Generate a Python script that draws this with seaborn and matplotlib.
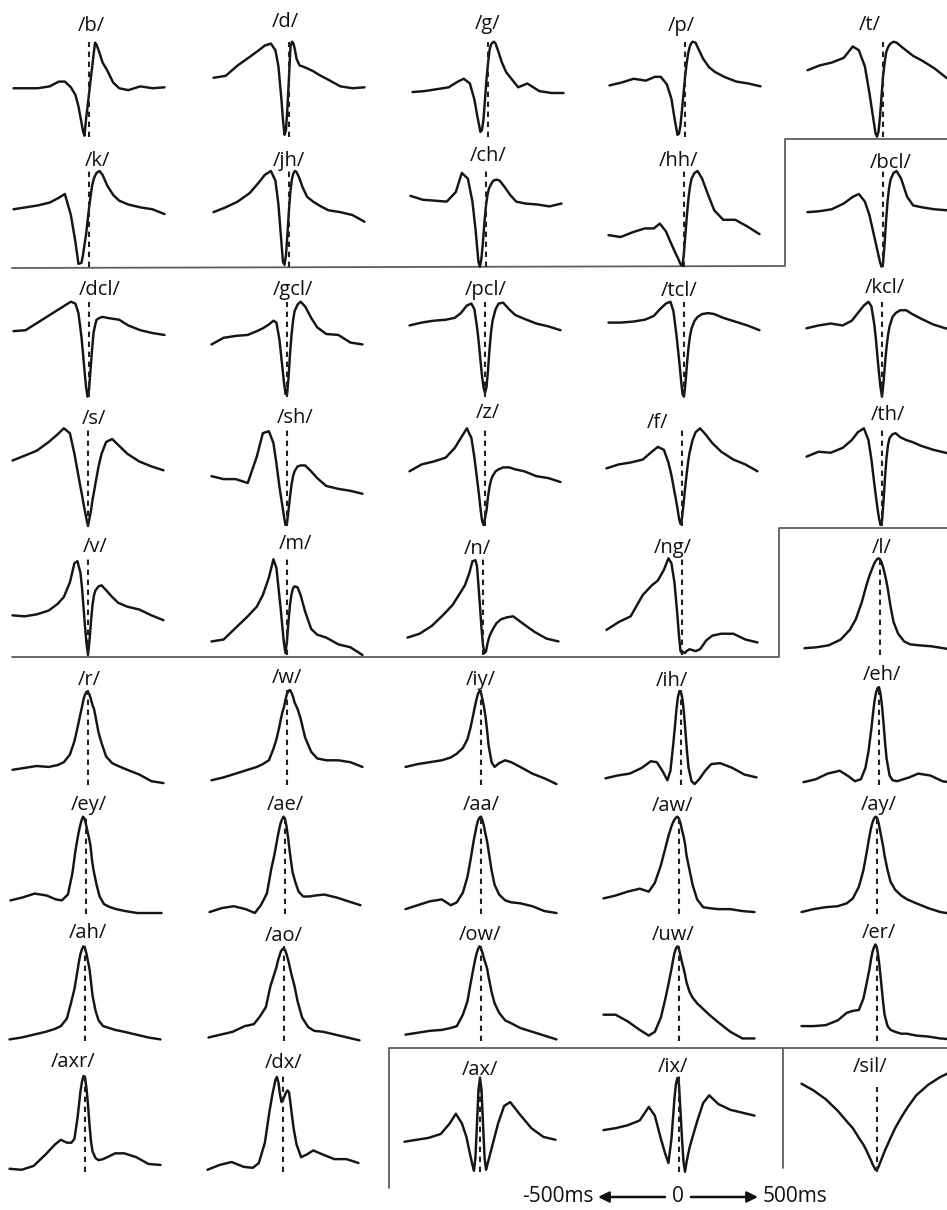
import matplotlib
matplotlib.use("Agg")
import matplotlib.pyplot as plt
import seaborn as sns

# ---------------- data ----------------
# lag axis (ms) shared by every averaged trajectory
lag_ms = [-500, -420, -340, -260, -200, -160, -120, -90, -70, -50, -40, -30, -20, -10, 0,
          10, 20, 30, 40, 50, 70, 90, 120, 160, 200, 260, 340, 420, 500]

amp_b = [51, 51, 51, 53, 58, 58, 52, 44, 32, 15, 6, 1, 18, 31, 45, 59, 72, 86, 99, 97, 88, 78, 70, 57, 51, 49, 53, 51, 52]
amp_d = [62, 64, 75, 84, 91, 96, 98, 91, 74, 39, 18, 2, 7, 32, 63, 95, 100, 98, 91, 82, 75, 74, 72, 69, 65, 60, 53, 51, 52]
amp_g = [47, 48, 50, 52, 58, 61, 56, 39, 21, 5, 7, 18, 39, 60, 77, 91, 97, 99, 100, 98, 89, 79, 68, 60, 52, 56, 48, 46, 46]
amp_p = [54, 57, 61, 59, 63, 63, 55, 40, 20, 2, 3, 12, 28, 45, 62, 76, 87, 94, 98, 100, 99, 92, 82, 73, 68, 63, 58, 56, 53]
amp_t = [70, 75, 78, 83, 95, 91, 74, 46, 25, 4, 0, 5, 21, 42, 63, 77, 88, 93, 96, 98, 100, 99, 95, 90, 85, 80, 72, 62, 55]

amp_k = [60, 62, 64, 67, 72, 76, 54, 26, 3, 4, 12, 23, 33, 47, 61, 73, 84, 91, 95, 98, 100, 96, 85, 75, 69, 65, 62, 60, 55]
amp_jh = [57, 62, 68, 77, 88, 96, 100, 90, 65, 25, 5, 2, 12, 35, 60, 80, 92, 98, 100, 99, 92, 83, 73, 68, 64, 59, 57, 54, 47]
amp_ch = [74, 70, 69, 68, 78, 98, 92, 68, 40, 5, 0, 9, 26, 47, 64, 75, 82, 85, 88, 90, 91, 90, 84, 75, 68, 66, 65, 63, 66]
amp_hh = [33, 31, 36, 40, 40, 45, 37, 26, 19, 12, 9, 5, 2, 1, 15, 35, 55, 72, 84, 92, 98, 100, 92, 75, 59, 49, 49, 42, 34]
amp_bcl = [57, 58, 60, 66, 73, 76, 68, 54, 40, 26, 19, 12, 5, 0, 3, 23, 47, 68, 82, 91, 98, 100, 92, 73, 64, 62, 60, 59, 58]

amp_dcl = [69, 70, 78, 86, 92, 96, 100, 98, 88, 63, 46, 28, 11, 0, 7, 28, 49, 67, 75, 81, 83, 84, 83, 82, 81, 75, 70, 67, 65]
amp_gcl = [55, 62, 64, 65, 69, 72, 76, 80, 78, 60, 45, 30, 15, 3, 2, 20, 45, 65, 80, 90, 97, 100, 95, 83, 73, 66, 65, 57, 55]
amp_pcl = [75, 78, 80, 81, 83, 88, 96, 98, 92, 70, 55, 38, 22, 10, 4, 10, 28, 50, 68, 80, 92, 98, 99, 92, 86, 82, 77, 74, 70]
amp_tcl = [78, 78, 79, 81, 85, 92, 98, 100, 90, 65, 50, 35, 18, 3, 0, 15, 35, 52, 64, 72, 80, 84, 87, 88, 87, 83, 79, 75, 70]
amp_kcl = [72, 75, 77, 75, 80, 88, 96, 100, 95, 75, 60, 42, 25, 10, 0, 15, 35, 52, 65, 74, 84, 88, 91, 91, 87, 82, 76, 72, 70]

amp_s = [67, 72, 77, 86, 94, 100, 95, 74, 57, 40, 32, 23, 15, 7, 0, 8, 16, 27, 35, 44, 61, 74, 86, 89, 83, 74, 66, 61, 57]
amp_sh = [51, 48, 48, 44, 71, 95, 97, 85, 64, 40, 30, 20, 10, 1, 3, 16, 30, 42, 51, 56, 61, 62, 62, 56, 49, 41, 38, 36, 33]
amp_z = [56, 63, 66, 70, 80, 90, 100, 90, 70, 45, 32, 18, 6, 1, 8, 16, 30, 40, 47, 51, 56, 58, 60, 60, 58, 56, 51, 49, 45]
amp_f = [59, 63, 65, 68, 76, 81, 78, 65, 52, 35, 27, 18, 8, 2, 8, 22, 38, 52, 65, 75, 88, 96, 100, 93, 85, 76, 68, 63, 56]
amp_th = [71, 76, 75, 80, 88, 96, 100, 88, 68, 42, 30, 18, 8, 1, 5, 25, 50, 70, 83, 90, 94, 95, 91, 88, 86, 82, 78, 75, 72]

amp_v = [41, 40, 42, 46, 53, 60, 75, 95, 97, 85, 70, 50, 30, 12, 0, 15, 35, 52, 62, 67, 71, 72, 67, 60, 54, 50, 47, 41, 36]
amp_m = [14, 16, 28, 40, 50, 62, 80, 99, 90, 60, 45, 28, 12, 2, 15, 35, 52, 63, 69, 71, 70, 62, 45, 27, 21, 18, 11, 8, 0]
amp_n = [18, 22, 30, 42, 52, 62, 72, 85, 97, 98, 92, 72, 50, 28, 10, 2, 4, 12, 18, 22, 28, 33, 37, 39, 40, 33, 24, 17, 14]
amp_ng = [26, 34, 40, 62, 72, 77, 88, 100, 95, 75, 58, 40, 20, 4, 2, 3, 2, 4, 5, 6, 5, 4, 6, 15, 20, 22, 22, 16, 13]
amp_l = [7, 8, 10, 16, 26, 37, 55, 72, 82, 90, 94, 97, 99, 100, 99, 96, 91, 85, 78, 70, 50, 34, 22, 14, 11, 10, 9, 7, 5]

amp_r = [16, 18, 20, 19, 21, 24, 32, 46, 60, 75, 82, 90, 95, 98, 98, 95, 90, 84, 80, 72, 55, 44, 30, 23, 20, 16, 11, 4, 2]
amp_w = [5, 8, 12, 16, 19, 22, 26, 38, 48, 62, 70, 77, 82, 90, 96, 99, 100, 97, 93, 87, 80, 70, 50, 35, 28, 26, 26, 24, 19]
amp_iy = [19, 22, 24, 26, 29, 33, 39, 48, 60, 75, 83, 90, 96, 99, 97, 90, 82, 72, 58, 42, 24, 19, 23, 26, 24, 19, 12, 7, 1]
amp_ih = [7, 10, 12, 18, 25, 24, 14, 5, 15, 45, 62, 80, 93, 99, 98, 90, 75, 55, 35, 18, 4, 1, 6, 15, 22, 23, 18, 11, 8]
amp_eh = [3, 6, 12, 15, 9, 4, 6, 18, 35, 60, 75, 88, 97, 102, 103, 96, 83, 65, 45, 28, 10, 5, 4, 6, 8, 12, 10, 4, 2]

amp_ey = [14, 17, 21, 19, 15, 14, 20, 42, 65, 83, 90, 96, 100, 98, 92, 85, 78, 70, 55, 45, 30, 18, 10, 7, 5, 3, 1, 1, 1]
amp_ae = [2, 6, 8, 5, 1, 9, 21, 47, 61, 78, 86, 93, 97, 100, 98, 90, 79, 66, 54, 43, 32, 23, 18, 18, 19, 20, 17, 13, 9]
amp_aa = [5, 9, 13, 15, 9, 12, 22, 38, 55, 74, 82, 90, 96, 99, 100, 96, 90, 82, 75, 65, 45, 30, 20, 14, 12, 11, 8, 3, 1]
amp_aw = [16, 19, 23, 26, 23, 32, 50, 68, 80, 90, 94, 97, 99, 100, 98, 93, 86, 80, 72, 60, 45, 30, 15, 7, 6, 5, 5, 3, 2]
amp_ay = [2, 5, 7, 8, 11, 16, 28, 45, 62, 80, 88, 94, 98, 100, 99, 94, 86, 78, 70, 60, 45, 33, 25, 19, 15, 11, 6, 2, 0]

amp_ah = [2, 4, 7, 10, 13, 16, 24, 42, 55, 74, 84, 92, 97, 100, 98, 92, 84, 76, 62, 48, 32, 22, 16, 14, 12, 10, 7, 4, 2]
amp_ao = [4, 7, 10, 16, 18, 26, 36, 58, 68, 78, 85, 90, 95, 97, 98, 95, 90, 84, 77, 70, 58, 42, 25, 15, 11, 10, 7, 4, 1]
amp_ow = [7, 9, 11, 12, 14, 16, 28, 42, 60, 77, 85, 92, 97, 100, 98, 93, 87, 82, 77, 68, 52, 40, 30, 22, 19, 14, 10, 6, 2]
amp_uw = [28, 28, 21, 12, 6, 10, 25, 45, 60, 76, 85, 93, 98, 100, 97, 90, 83, 77, 70, 62, 52, 46, 40, 34, 28, 20, 10, 3, 3]
amp_er = [16, 16, 17, 22, 30, 32, 33, 45, 60, 76, 86, 94, 99, 102, 98, 88, 74, 58, 42, 28, 16, 12, 10, 8, 8, 6, 5, 3, 2]

amp_axr = [3, 2, 6, 18, 28, 33, 30, 30, 34, 55, 69, 83, 93, 99, 98, 86, 69, 48, 31, 21, 14, 12, 13, 16, 19, 19, 15, 8, 7]
amp_dx = [2, 7, 10, 5, 4, 9, 30, 62, 80, 95, 98, 92, 80, 72, 74, 78, 82, 84, 82, 70, 45, 28, 15, 18, 22, 18, 13, 13, 9]
amp_ax = [31, 33, 35, 39, 50, 60, 50, 36, 21, 7, 1, 15, 50, 85, 97, 85, 50, 15, 2, 8, 20, 32, 50, 68, 72, 60, 45, 36, 33]
amp_ix = [43, 45, 48, 53, 67, 58, 34, 18, 9, 34, 55, 76, 91, 97, 90, 62, 34, 10, 0, 10, 25, 36, 52, 71, 79, 70, 64, 61, 58]
amp_sil = [91, 84, 75, 63, 52, 45, 35, 28, 22, 15, 12, 8, 5, 2, 2, 5, 9, 13, 17, 21, 28, 35, 45, 56, 66, 79, 90, 98, 104]

phoneme_rows = [
    ["/b/", "/d/", "/g/", "/p/", "/t/"],
    ["/k/", "/jh/", "/ch/", "/hh/", "/bcl/"],
    ["/dcl/", "/gcl/", "/pcl/", "/tcl/", "/kcl/"],
    ["/s/", "/sh/", "/z/", "/f/", "/th/"],
    ["/v/", "/m/", "/n/", "/ng/", "/l/"],
    ["/r/", "/w/", "/iy/", "/ih/", "/eh/"],
    ["/ey/", "/ae/", "/aa/", "/aw/", "/ay/"],
    ["/ah/", "/ao/", "/ow/", "/uw/", "/er/"],
    ["/axr/", "/dx/", "/ax/", "/ix/", "/sil/"],
]
curve_rows = [
    [amp_b, amp_d, amp_g, amp_p, amp_t],
    [amp_k, amp_jh, amp_ch, amp_hh, amp_bcl],
    [amp_dcl, amp_gcl, amp_pcl, amp_tcl, amp_kcl],
    [amp_s, amp_sh, amp_z, amp_f, amp_th],
    [amp_v, amp_m, amp_n, amp_ng, amp_l],
    [amp_r, amp_w, amp_iy, amp_ih, amp_eh],
    [amp_ey, amp_ae, amp_aa, amp_aw, amp_ay],
    [amp_ah, amp_ao, amp_ow, amp_uw, amp_er],
    [amp_axr, amp_dx, amp_ax, amp_ix, amp_sil],
]
scale_labels = ["-500ms", "0", "500ms"]

# ---------------- layout (pixels) ----------------
W, H = 947, 1210
row_v0 = [136.7, 266.7, 396.7, 526, 655, 785, 914, 1041.3, 1171.7]
row_v100 = [41.7, 171, 301.7, 428.3, 558.3, 690, 816.7, 946.3, 1075]
col_cx = [
    [89, 289, 488, 685, 883],
    [89, 289, 486, 684, 883],
    [89, 287, 485, 684, 882],
    [88, 287, 485, 682, 882],
    [88, 287, 483, 682, 880],
    [88, 287, 481, 681, 879],
    [86, 285, 481, 679, 877],
    [85, 284, 481, 679, 877],
    [85, 283, 480, 679, 877],
]
label_xy = [
    [(91, 26), (285, 22), (488, 24), (681, 26), (870, 25)],
    [(97, 161), (289, 161), (488, 156), (679, 161), (891, 163)],
    [(100, 290), (293, 290), (486, 290), (679, 291), (885, 288)],
    [(94, 419), (295, 418), (488, 413), (658, 423), (888, 415)],
    [(95, 547), (295, 544), (477, 549), (673, 548), (882, 548)],
    [(89, 680), (287, 678), (481, 680), (672, 681), (882, 675)],
    [(89, 805), (285, 805), (481, 805), (673, 806), (879, 805)],
    [(88, 933), (284, 936), (480, 935), (673, 935), (879, 933)],
    [(73, 1062), (284, 1063), (480, 1070), (673, 1067), (870, 1067)],
]
HALF = 75.5
Y_LO, Y_HI = -8, 112

sns.set_style("white")
plt.rcParams["font.family"] = ["Open Sans", "DejaVu Sans"]

fig = plt.figure(figsize=(W / 100, H / 100), dpi=100)
bg = fig.add_axes([0, 0, 1, 1])
bg.set_xlim(0, W)
bg.set_ylim(H, 0)
bg.set_axis_off()

ink = "#151515"
for r in range(9):
    ppu = (row_v0[r] - row_v100[r]) / 100.0
    top_px = row_v100[r] - (Y_HI - 100) * ppu
    bot_px = row_v0[r] - Y_LO * ppu
    for c in range(5):
        cx = col_cx[r][c]
        ax = fig.add_axes([(cx - HALF) / W, 1 - bot_px / H, 2 * HALF / W, (bot_px - top_px) / H])
        ax.patch.set_alpha(0)
        sns.lineplot(x=lag_ms, y=curve_rows[r][c], ax=ax, color=ink, linewidth=1.75,
                     legend=False, clip_on=False)
        ax.set_xlim(-500, 500)
        ax.set_ylim(Y_LO, Y_HI)
        ax.set_axis_off()
        dash_top = 88 if phoneme_rows[r][c] == "/sil/" else 100
        ax.axvline(0, ymin=(0 - Y_LO) / (Y_HI - Y_LO), ymax=(dash_top - Y_LO) / (Y_HI - Y_LO),
                   color="#222222", linewidth=1.5, linestyle=(0, (2.6, 2.2)))
        lx, ly = label_xy[r][c]
        bg.text(lx, ly, phoneme_rows[r][c], ha="center", va="center", fontsize=14.5, color="#111111")

# frame lines separating groups
frame_kw = dict(color="#5e5e5e", linewidth=1.3)
bg.plot([12, 785, 785, 947], [268, 266, 139, 139], **frame_kw)
bg.plot([12, 779, 779, 947], [657, 657, 528, 528], **frame_kw)
bg.plot([389, 389, 947], [1188, 1048, 1048], **frame_kw)
bg.plot([783, 783], [1048, 1168], **frame_kw)

# time-scale annotation
bg.text(558, 1197, scale_labels[0], ha="center", va="center", fontsize=15, color="#111111")
bg.text(678, 1197, scale_labels[1], ha="center", va="center", fontsize=15, color="#111111")
bg.text(763, 1197, scale_labels[2], ha="left", va="center", fontsize=15, color="#111111")
arrow_kw = dict(arrowstyle="-|>", color="#111111", lw=1.8, mutation_scale=16, shrinkA=0, shrinkB=0)
bg.annotate("", xy=(598, 1197), xytext=(665, 1197), arrowprops=arrow_kw)
bg.annotate("", xy=(758, 1197), xytext=(691, 1197), arrowprops=arrow_kw)

fig.savefig("out.png", dpi=100)
